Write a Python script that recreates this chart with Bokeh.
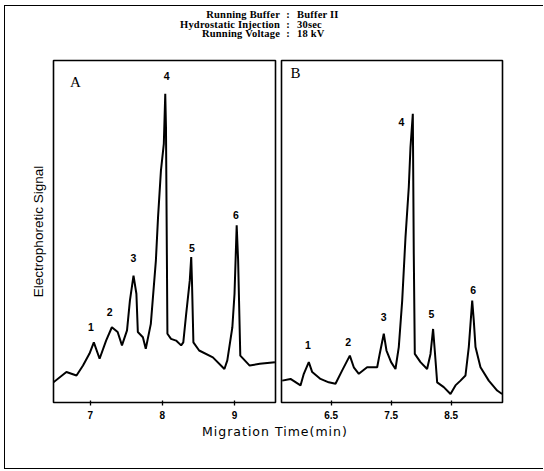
from bokeh.plotting import figure
from bokeh.layouts import column, row
from bokeh.models import Range1d, FixedTicker, Div, ColumnDataSource
from bokeh.embed import file_html
from bokeh.resources import INLINE
from bokeh.core.properties import value

# ---------------- data ----------------
header_keys = ["Running Buffer", "Hydrostatic Injection", "Running Voltage"]
header_vals = ["Buffer II", "30sec", "18 kV"]

x_title = "Migration Time(min)"
y_title = "Electrophoretic Signal"
panel_names = ["A", "B"]
peak_ids = ["1", "2", "3", "4", "5", "6"]

a_ticks = [7, 8, 9]
b_ticks = [6.5, 7.5, 8.5]

a_time = [6.49, 6.67, 6.81, 6.90, 6.99, 7.05, 7.13, 7.22, 7.30, 7.38, 7.44, 7.51,
          7.55, 7.60, 7.64, 7.66, 7.73, 7.77, 7.84, 7.91, 7.94, 7.98, 8.02, 8.04,
          8.05, 8.07, 8.12, 8.19, 8.26, 8.29, 8.33, 8.38, 8.40, 8.41, 8.43, 8.51,
          8.70, 8.86, 8.90, 8.97, 9.00, 9.03, 9.05, 9.08, 9.21, 9.35, 9.56]
a_signal = [5.9, 8.9, 7.9, 10.8, 14.3, 17.6, 12.8, 18.1, 22.0, 20.6, 16.7, 21.1,
            29.8, 37.1, 31.8, 20.6, 19.1, 15.7, 23.0, 41.5, 54.2, 67.8, 75.6, 90.3,
            80.5, 20.1, 18.6, 18.1, 16.7, 17.6, 25.9, 35.7, 42.5, 35.7, 17.6, 15.2,
            13.2, 9.8, 12.3, 22.0, 31.8, 51.8, 41.5, 13.7, 10.8, 11.3, 11.8]

b_time = [5.685, 5.823, 5.99, 6.045, 6.128, 6.185, 6.323, 6.46, 6.573, 6.685,
          6.812, 6.878, 6.962, 7.10, 7.268, 7.31, 7.378, 7.423, 7.50, 7.573,
          7.628, 7.685, 7.74, 7.795, 7.823, 7.862, 7.878, 7.895, 7.99, 8.10,
          8.157, 8.20, 8.228, 8.268, 8.378, 8.49, 8.573, 8.657, 8.74, 8.795,
          8.852, 8.878, 8.907, 8.99, 9.128, 9.268, 9.35]
b_signal = [6.4, 6.9, 5.0, 8.4, 11.8, 8.9, 6.9, 5.9, 5.5, 9.4,
            13.7, 10.3, 8.4, 10.3, 10.3, 14.2, 20.1, 15.2, 11.8, 9.8,
            16.2, 29.8, 48.3, 63.0, 74.6, 84.4, 43.5, 14.2, 11.8, 9.8,
            14.2, 21.5, 15.2, 5.9, 4.5, 2.5, 5.0, 6.4, 7.9, 16.2,
            29.8, 24.0, 16.2, 10.3, 6.4, 3.5, 2.5]

a_label_time = [7.01, 7.27, 7.60, 8.06, 8.41, 9.02]
a_label_signal = [22.0, 26.4, 42.2, 95.6, 45.1, 54.7]
b_label_time = [6.112, 6.785, 7.378, 7.673, 8.173, 8.868]
b_label_signal = [16.7, 17.6, 24.9, 82.0, 25.9, 33.0]

panel_label_time = [6.796, 5.907]
panel_label_signal = [93.6, 96.2]

a_xlim = (6.491, 9.568)
b_xlim = (5.673, 9.357)
ylim = (0, 100)


def make_panel(xlim, ticks, t, s, lt, ls, name, nx, ny, left):
    kw = dict(output_backend="svg", toolbar_location=None,
              x_range=Range1d(*xlim), y_range=Range1d(*ylim),
              min_border_top=8, min_border_bottom=20, height=370,
              background_fill_color="white", border_fill_color="white")
    if left:
        p = figure(width=273, min_border_left=48, min_border_right=3, **kw)
    else:
        p = figure(width=244, min_border_left=3, min_border_right=20,
                   y_axis_location=None, **kw)
    p.grid.visible = False
    p.outline_line_color = "black"
    p.outline_line_width = 1.6
    ax = p.xaxis[0]
    ax.ticker = FixedTicker(ticks=ticks)
    ax.minor_tick_line_color = None
    ax.axis_line_color = None
    ax.major_tick_out = 3
    ax.major_tick_in = 2
    ax.major_tick_line_width = 1.3
    ax.major_label_standoff = 5
    ax.major_label_text_font = "Liberation Sans"
    ax.major_label_text_font_style = "bold"
    ax.major_label_text_font_size = "10px"
    ax.major_label_text_color = "black"
    if left:
        ya = p.yaxis[0]
        ya.ticker = FixedTicker(ticks=[])
        ya.major_tick_out = 0
        ya.major_tick_in = 0
        ya.minor_tick_line_color = None
        ya.axis_line_color = None
        ya.major_label_standoff = 0
        ya.axis_label = y_title
        ya.axis_label_standoff = 8
        ya.axis_label_text_font = "Liberation Sans"
        ya.axis_label_text_font_style = "normal"
        ya.axis_label_text_font_size = "13.5px"
        ya.axis_label_text_color = "black"
    p.line(t, s, line_color="black", line_width=2)
    src = ColumnDataSource(dict(x=lt, y=ls, t=peak_ids))
    p.text("x", "y", text="t", source=src, text_align="center",
           text_baseline="middle", text_font=value("Liberation Sans"),
           text_font_style="bold", text_font_size="10.5px", text_color="black")
    p.text([nx], [ny], text=[name], text_align="center", text_baseline="middle",
           text_font=value("Liberation Serif"), text_font_size="15px",
           text_color="black")
    return p


pa = make_panel(a_xlim, a_ticks, a_time, a_signal, a_label_time, a_label_signal,
                panel_names[0], panel_label_time[0], panel_label_signal[0], True)
pb = make_panel(b_xlim, b_ticks, b_time, b_signal, b_label_time, b_label_signal,
                panel_names[1], panel_label_time[1], panel_label_signal[1], False)

rows = "".join(
    f"<tr><td style='width:100px;text-align:right;padding:0;white-space:nowrap'>{k}</td>"
    f"<td style='width:16px;text-align:center;padding:0'>:</td>"
    f"<td style='text-align:left;padding:0 0 0 1px;white-space:nowrap'>{v}</td></tr>"
    for k, v in zip(header_keys, header_vals))
header = Div(width=538, height=46, margin=0, text=(
    "<table style=\"border-collapse:collapse;margin-left:175px;margin-top:4px;"
    "font-family:'Liberation Serif';font-weight:bold;font-size:10.5px;"
    "letter-spacing:0.2px;line-height:9.5px;color:black\">" + rows + "</table>"))

xlabel = Div(width=538, height=46, margin=0, text=(
    "<div style=\"padding-left:197px;padding-top:3px;font-family:'DejaVu Sans';"
    "font-size:12.5px;letter-spacing:1px;line-height:14px;color:black\">"
    + x_title + "</div>"))

layout = column(header, row(pa, pb), xlabel, margin=(5, 0, 0, 4),
                styles={"border-left": "1.5px solid black",
                        "border-top": "1.5px solid black",
                        "border-bottom": "1.5px solid black",
                        "background-color": "white"})

open("out.html", "w").write(file_html(layout, INLINE))
